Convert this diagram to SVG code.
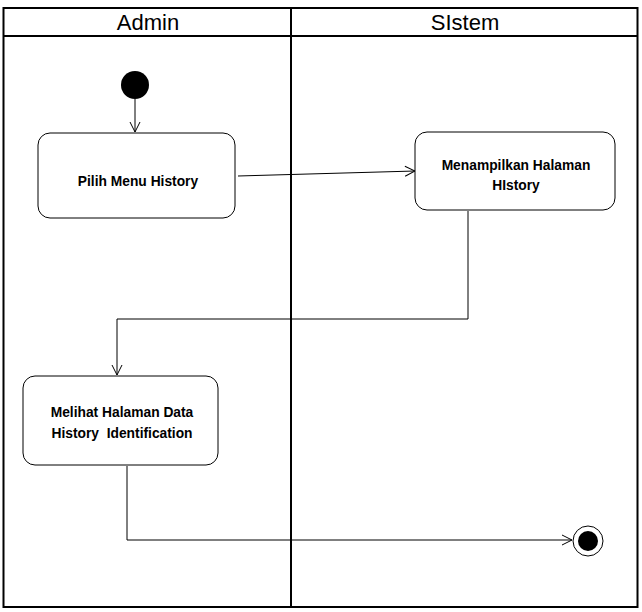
<svg xmlns="http://www.w3.org/2000/svg" width="642" height="612" viewBox="0 0 642 612">
<style>
.lane{fill:none;stroke:#000;stroke-width:2}
.hdr{font-family:"Liberation Sans",Arial,sans-serif;font-size:22px;fill:#000;text-anchor:middle}
.box{fill:#fff;stroke:#000;stroke-width:1}
.lbl{font-family:"Liberation Sans",Arial,sans-serif;font-size:13.8px;font-weight:bold;fill:#000;text-anchor:middle}
.edge{fill:none;stroke:#000;stroke-width:1}
</style>
<defs>
<marker id="open" markerWidth="12" markerHeight="12" refX="11" refY="6" orient="auto" markerUnits="userSpaceOnUse">
<path d="M1,1 L11,6 L1,11" fill="none" stroke="#000" stroke-width="1"/>
</marker>
</defs>
<rect width="642" height="612" fill="#fff"/>
<g id="swimlanes">
<rect class="lane" x="3.5" y="8" width="634" height="599"/>
<line class="lane" x1="3.5" y1="36" x2="637.5" y2="36"/>
<line class="lane" x1="291" y1="8" x2="291" y2="607"/>
<text class="hdr" x="148" y="30">Admin</text>
<text class="hdr" x="465" y="30">SIstem</text>
</g>
<g id="connectors">
<line class="edge" x1="238" y1="176" x2="415" y2="171" marker-end="url(#open)"/>
<line class="edge" x1="135" y1="99" x2="135" y2="132" marker-end="url(#open)"/>
<polyline class="edge" points="468,211 468,319 117,319 117,375" marker-end="url(#open)"/>
<polyline class="edge" points="127,466 127,540 572,540" marker-end="url(#open)"/>
</g>
<g id="start">
<circle cx="135" cy="85" r="14" fill="#000"/>
</g>
<g id="pilih-menu-history">
<rect class="box" x="38" y="133" width="197" height="85" rx="12"/>
<text class="lbl" x="138" y="186">Pilih Menu History</text>
</g>
<g id="menampilkan-halaman-history">
<rect class="box" x="415" y="132" width="200" height="78" rx="12"/>
<text class="lbl" x="516" y="170">Menampilkan Halaman</text>
<text class="lbl" x="516" y="190">HIstory</text>
</g>
<g id="melihat-halaman-data">
<rect class="box" x="23" y="376" width="195" height="89" rx="12"/>
<text class="lbl" x="122" y="417">Melihat Halaman Data</text>
<text class="lbl" x="122" y="438" xml:space="preserve">History  Identification</text>
</g>
<g id="end">
<circle cx="588" cy="541" r="15" fill="#fff" stroke="#000" stroke-width="1"/>
<circle cx="588" cy="541" r="10" fill="#000"/>
</g>
</svg>
